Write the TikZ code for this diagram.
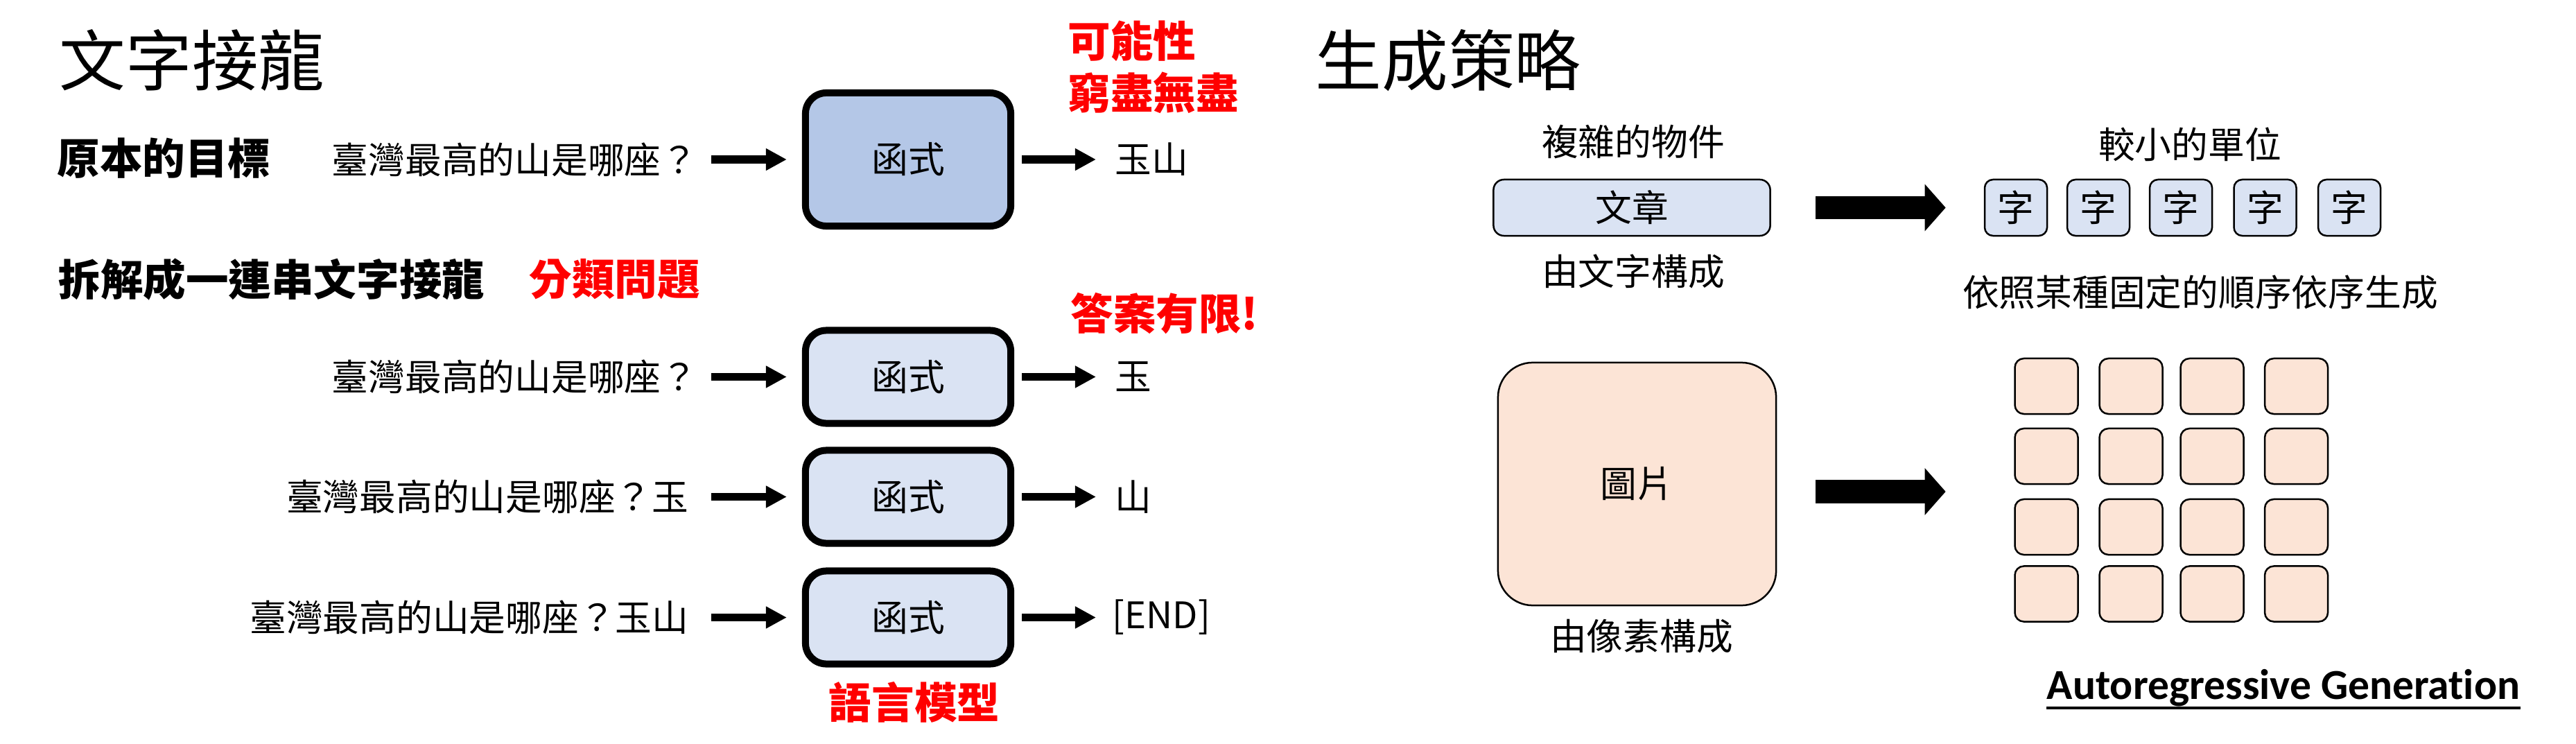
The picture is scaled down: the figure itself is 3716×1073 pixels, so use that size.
\documentclass[tikz,border=0pt]{standalone}
\usepackage{fontspec}
\newfontfamily\cjk{Noto Sans CJK TC}
\newfontfamily\latf{Carlito}[Ligatures={NoCommon}]
\usetikzlibrary{arrows.meta,calc}
\definecolor{boxblue}{HTML}{B4C7E7}
\definecolor{lblue}{HTML}{DAE3F3}
\definecolor{lpink}{HTML}{FCE4D6}
\definecolor{hred}{HTML}{FF0000}
\begin{document}
\begin{tikzpicture}[x=0.01cm,y=-0.01cm,
 ttl/.style={font=\cjk\fontsize{27.2}{32}\selectfont, inner sep=0, anchor=west},
 bld/.style={font=\cjk\bfseries\fontsize{17.5}{21}\selectfont, inner sep=0},
 rbld/.style={bld, text=hred},
 txt/.style={font=\cjk\fontsize{15}{18}\selectfont, inner sep=0},
 fbox/.style={draw=black, line width=0.1cm, rounded corners=0.3cm, minimum width=2.96cm, txt},
 arr/.style={line width=0.11cm, -{Triangle[length=0.3cm,width=0.3cm]}},
 bigarr/.style={line width=0.33cm, -{Triangle[length=0.3cm,width=0.66cm]}},
 tokbox/.style={draw=black, line width=0.025cm, fill=lblue, rounded corners=0.12cm, minimum width=0.9cm, minimum height=0.81cm, txt},
 pixbox/.style={draw=black, line width=0.025cm, fill=lpink, rounded corners=0.13cm, minimum width=0.91cm, minimum height=0.8cm, inner sep=0},
]
\useasboundingbox (0,0) rectangle (3716,1073);
% left headings
\node[ttl] (h1) at (85,87) {文字接龍};
\node[ttl] (h2) at (1897,87) {生成策略};
\node[rbld, anchor=west] (p1) at (1540,59) {可能性};
\node[rbld, anchor=west] (p2) at (1540,134) {窮盡無盡};
\node[bld, anchor=west] (g1) at (82,228) {原本的目標};
% row 1
\node[fbox, fill=boxblue, minimum height=1.92cm] (f1) at (1310,230) {函式};
\node[txt, anchor=east] (q1) at (1007,230) {臺灣最高的山是哪座？};
\node[txt, anchor=west] (o1) at (1608,230) {玉山};
\draw[arr, shorten <=0.19cm, shorten >=0.22cm] (q1.east) -- (f1.west);
\draw[arr, shorten <=0.11cm, shorten >=0.27cm] (f1.east) -- (o1.west);
% decomposition
\node[bld, anchor=west] (g2) at (83,403) {拆解成一連串文字接龍};
\node[rbld, anchor=west] (c2) at (763,403) {分類問題};
\node[rbld, anchor=west] (p3) at (1544,452) {答案有限!};
% row 2
\node[fbox, fill=lblue, minimum height=1.34cm] (f2) at (1310,543.5) {函式};
\node[txt, anchor=east] (q2) at (1007,543.5) {臺灣最高的山是哪座？};
\node[txt, anchor=west] (o2) at (1608,543.5) {玉};
\draw[arr, shorten <=0.19cm, shorten >=0.22cm] (q2.east) -- (f2.west);
\draw[arr, shorten <=0.11cm, shorten >=0.27cm] (f2.east) -- (o2.west);
% row 3
\node[fbox, fill=lblue, minimum height=1.34cm] (f3) at (1310,716.5) {函式};
\node[txt, anchor=east] (q3) at (994,716.5) {臺灣最高的山是哪座？玉};
\node[txt, anchor=west] (o3) at (1608,716.5) {山};
\draw[arr, shorten <=0.32cm, shorten >=0.22cm] (q3.east) -- (f3.west);
\draw[arr, shorten <=0.11cm, shorten >=0.27cm] (f3.east) -- (o3.west);
% row 4
\node[fbox, fill=lblue, minimum height=1.34cm] (f4) at (1310,890.5) {函式};
\node[txt, anchor=east] (q4) at (994,890.5) {臺灣最高的山是哪座？玉山};
\node[txt, anchor=west] (o4) at (1604,890.5) {[END]};
\draw[arr, shorten <=0.32cm, shorten >=0.22cm] (q4.east) -- (f4.west);
\draw[arr, shorten <=0.11cm, shorten >=0.23cm] (f4.east) -- (o4.west);
\node[rbld] (lm) at (1319,1013) {語言模型};
% right: text
\node[txt] (cx) at (2356,204) {複雜的物件};
\node[tokbox, minimum width=3.99cm, rounded corners=0.15cm] (wz) at (2354,299.5) {文章};
\node[txt] (bw) at (2356,391) {由文字構成};
\node[txt] (sm) at (3159,208) {較小的單位};
\foreach \i/\x in {1/2908,2/3027,3/3146,4/3267.5,5/3389}
  \node[tokbox] (k\i) at (\x,299.5) {字};
\draw[bigarr, shorten <=0.645cm, shorten >=0.55cm] (wz.east) -- (k1.west);
\node[txt] (ord) at (3174,421) {依照某種固定的順序依序生成};
% right: image
\node[draw=black, line width=0.025cm, fill=lpink, rounded corners=0.5cm, minimum width=4.01cm, minimum height=3.5cm, txt] (img) at (2361.5,698) {圖片};
\node[txt] (bp) at (2368,918) {由像素構成};
\foreach \r/\y in {1/557,2/658,3/760,4/856.5}
  \foreach \c/\x in {1/2952,2/3074,3/3191,4/3312.5}
    \node[pixbox] (px\r\c) at (\x,\y) {};
\coordinate (gl) at ($(px21.west)!0.5!(px31.west)$);
\draw[bigarr, shorten <=0.56cm, shorten >=0.985cm] (img.east |- gl) -- (gl);
% caption
\node[font=\latf\bfseries\fontsize{17.5}{21}\selectfont, inner sep=0, anchor=base] (ag) at (3294,1008) {Autoregressive Generat\kern0pt ion};
\draw[line width=0.04cm] ([yshift=-0.13cm]ag.base west) -- ([yshift=-0.13cm]ag.base east);
\end{tikzpicture}
\end{document}
